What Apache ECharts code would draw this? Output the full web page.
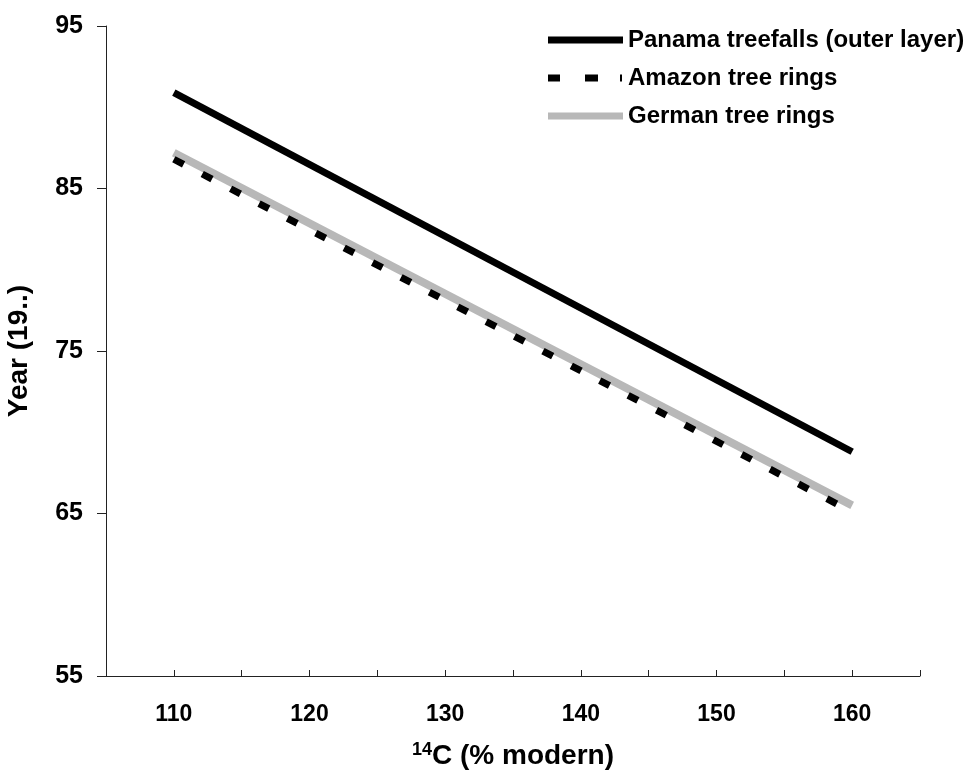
<!DOCTYPE html>
<html>
<head>
<meta charset="utf-8">
<script src="https://cdn.jsdelivr.net/npm/echarts@6/dist/echarts.min.js"></script>
<style>
    html, body {margin: 0; padding: 0; background: #fff;}
    #main {width: 975px; height: 778px;}
</style>
</head>
<body>
<div id="main"></div>
<script>
// 数据：两端点的回归线
const seriesNames = ['Panama treefalls (outer layer)', 'Amazon tree rings', 'German tree rings'];
const c14Values = [110, 160];
const panamaYears = [90.9, 68.8];
const amazonYears = [86.8, 65.1];
const germanYears = [87.2, 65.5];
const yTickLabels = [55, 65, 75, 85, 95];
const xTickLabels = [110, 120, 130, 140, 150, 160];

const toPairs = (ys) => c14Values.map((x, i) => [x, ys[i]]);

const font = 'Liberation Sans, Arial, sans-serif';
const chart = echarts.init(document.getElementById('main'));

// 图例图标：实线 / 虚线
const solidIcon = 'path://M0,0H75V7H0Z';
const dashIcon = 'path://M0,0H12V7H0Z M37,0H50V7H37Z M72,0H74V7H72Z M75,7H75V7H75Z';

const option = {
    animation: false,
    backgroundColor: '#fff',
    grid: {left: 106, right: 55, top: 26, bottom: 102, outerBoundsMode: 'none'},
    legend: {
        orient: 'vertical',
        left: 543,
        top: 23,
        itemWidth: 75,
        itemHeight: 7,
        itemGap: 14,
        textStyle: {color: '#000', fontFamily: font, fontWeight: 'bold', fontSize: 24, lineHeight: 24},
        data: [
            {name: seriesNames[0], icon: solidIcon},
            {name: seriesNames[1], icon: dashIcon},
            {name: seriesNames[2], icon: solidIcon}
        ]
    },
    xAxis: {
        type: 'value',
        min: 105,
        max: 165,
        interval: 5,
        name: '{sup|14}C (% modern)',
        nameLocation: 'middle',
        nameGap: 65,
        nameTextStyle: {
            color: '#000', fontFamily: font, fontWeight: 'bold', fontSize: 28,
            rich: {
                sup: {fontFamily: font, fontWeight: 'bold', fontSize: 18, padding: [0, 0, 12, 0], color: '#000'}
            }
        },
        axisLine: {lineStyle: {color: '#222', width: 1}},
        axisTick: {inside: true, length: 6, lineStyle: {color: '#222'}},
        axisLabel: {
            customValues: xTickLabels,
            margin: 27,
            color: '#000', fontFamily: font, fontWeight: 'bold', fontSize: 23
        },
        splitLine: {show: false}
    },
    yAxis: {
        type: 'value',
        min: 55,
        max: 95,
        name: 'Year (19..)',
        nameLocation: 'middle',
        nameGap: 73,
        nameTextStyle: {color: '#000', fontFamily: font, fontWeight: 'bold', fontSize: 28},
        axisLine: {show: true, lineStyle: {color: '#222', width: 1}},
        axisTick: {show: true, customValues: yTickLabels, length: 9, lineStyle: {color: '#222'}},
        axisLabel: {
            customValues: yTickLabels,
            margin: 23,
            color: '#000', fontFamily: font, fontWeight: 'bold', fontSize: 25
        },
        splitLine: {show: false}
    },
    series: [
        {
            name: seriesNames[0],
            type: 'line',
            data: toPairs(panamaYears),
            symbol: 'none',
            z: 3,
            itemStyle: {color: '#000'},
            lineStyle: {color: '#000', width: 7}
        },
        {
            name: seriesNames[1],
            type: 'line',
            data: toPairs(amazonYears),
            symbol: 'none',
            z: 3,
            itemStyle: {color: '#000'},
            lineStyle: {color: '#000', width: 7, type: [11, 21]}
        },
        {
            name: seriesNames[2],
            type: 'line',
            data: toPairs(germanYears),
            symbol: 'none',
            z: 2,
            itemStyle: {color: '#b8b8b8'},
            lineStyle: {color: '#b8b8b8', width: 8}
        }
    ]
};

chart.setOption(option);
</script>
</body>
</html>
